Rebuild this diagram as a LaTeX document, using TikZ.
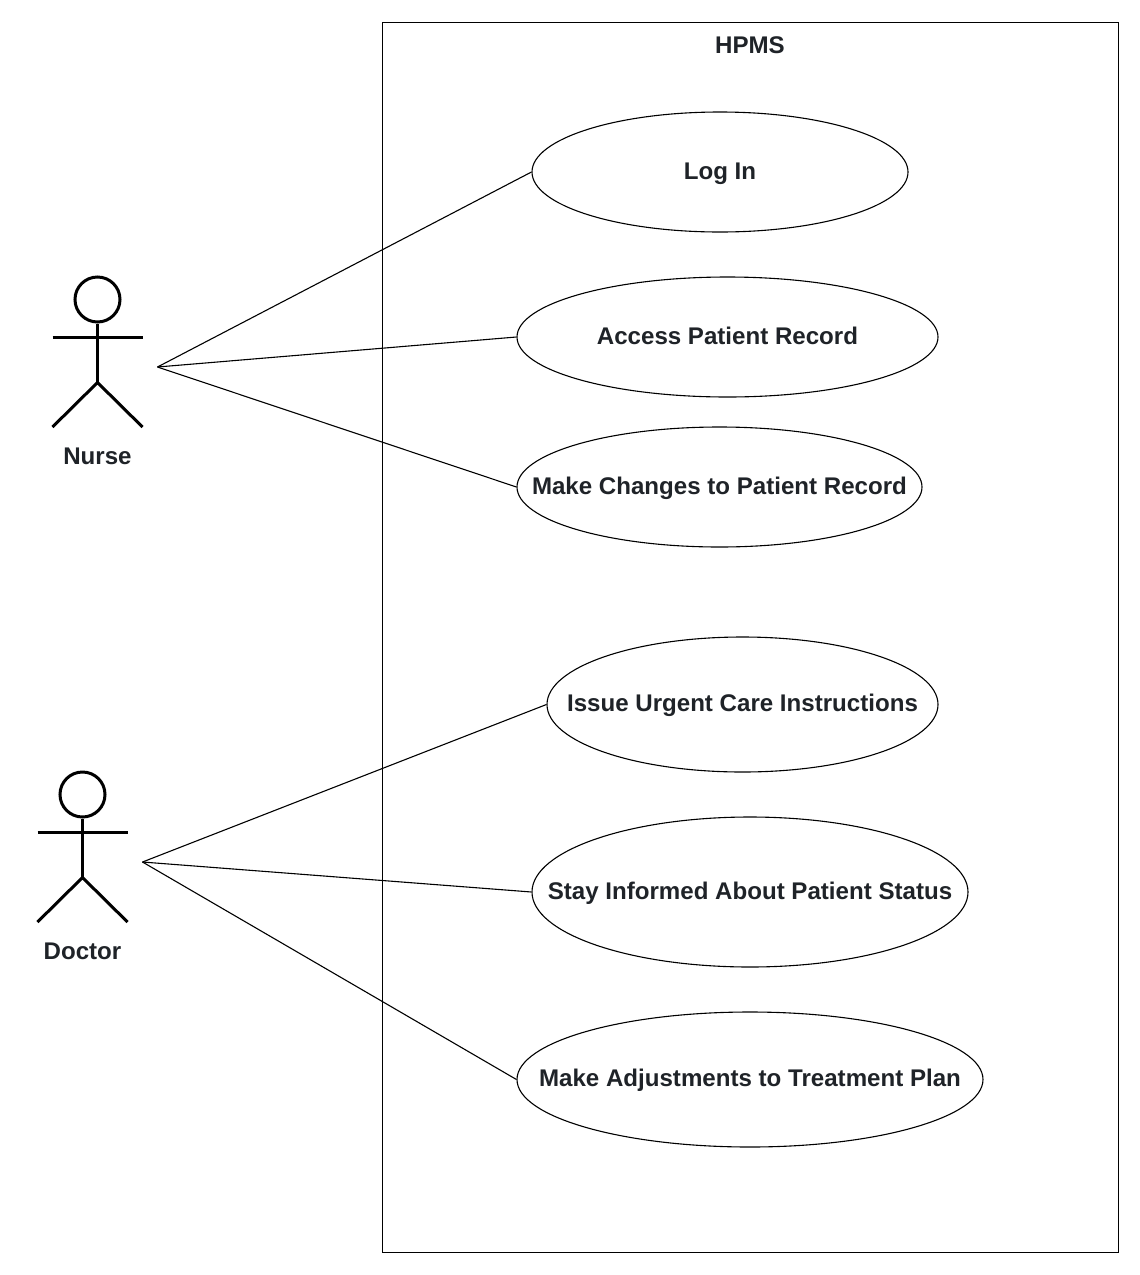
\documentclass[tikz,border=0pt]{standalone}
\usepackage{fontspec}
\usepackage{xcolor}
\usetikzlibrary{shapes.geometric}
\setmainfont{Liberation Sans}
\definecolor{labeltext}{HTML}{1F2328}
\newcommand{\actor}[3]{%
  \node[stick,circle,minimum size=45pt,inner sep=0pt] (#1head) at (#2,#3) {};
  \coordinate (#1hip) at (#2,#3+83);
  \coordinate (#1armL) at (#2-45,#3+38);
  \coordinate (#1armR) at (#2+45,#3+38);
  \coordinate (#1legL) at (#2-45,#3+127.5);
  \coordinate (#1legR) at (#2+45,#3+127.5);
  \coordinate (#1port) at (#2+60,#3+67.5);
  \draw[stick] (#1head) -- (#1hip);
  \draw[stick] (#1armL) -- (#1armR);
  \draw[stick] (#1legL) -- (#1hip) -- (#1legR);
}
\tikzset{
  stick/.style={draw=black,line width=3pt},
  usecase/.style={draw=black,line width=1.1pt,ellipse,inner sep=0pt,text height=14pt,text depth=0pt},
  label/.style={font=\fontsize{24.1}{28}\selectfont\bfseries,text=labeltext},
  assoc/.style={draw=black,line width=1.1pt}
}
\begin{document}
\begin{tikzpicture}[x=1pt,y=-1pt]
    \useasboundingbox (0,0) rectangle (1140,1275);
    \fill[white] (0,0) rectangle (1140,1275);

    \node[draw=black,line width=1.1pt,minimum width=736pt,minimum height=1230pt,inner sep=0pt] (system) at (750.5,637.5) {};
    \node[label] (systemname) at (750,45) {HPMS};

    \actor{nurse}{97.5}{299.5}
    \actor{doctor}{82.5}{794.5}
    \node[label] (nursename) at (97.5,456) {Nurse};
    \node[label] (doctorname) at (82.5,951) {Doctor};

    \node[usecase,label,minimum width=376pt,minimum height=120pt] (login) at (720,172) {\makebox[0pt]{Log In}};
    \node[usecase,label,minimum width=421pt,minimum height=120pt] (access) at (727.5,337) {\makebox[0pt]{Access Patient Record}};
    \node[usecase,label,minimum width=405pt,minimum height=120pt] (change) at (719.5,487) {\makebox[0pt]{Make Changes to Patient Record}};
    \node[usecase,label,minimum width=391pt,minimum height=135pt] (issue) at (742.5,704.5) {\makebox[0pt]{Issue Urgent Care Instructions}};
    \node[usecase,label,minimum width=436pt,minimum height=150pt] (status) at (750,892) {\makebox[0pt]{Stay Informed About Patient Status}};
    \node[usecase,label,minimum width=466pt,minimum height=135pt] (adjust) at (750,1079.5) {\makebox[0pt]{Make Adjustments to Treatment Plan}};

    \draw[assoc] (nurseport) -- (login.west);
    \draw[assoc] (nurseport) -- (access.west);
    \draw[assoc] (nurseport) -- (change.west);
    \draw[assoc] (doctorport) -- (issue.west);
    \draw[assoc] (doctorport) -- (status.west);
    \draw[assoc] (doctorport) -- (adjust.west);
\end{tikzpicture}
\end{document}
